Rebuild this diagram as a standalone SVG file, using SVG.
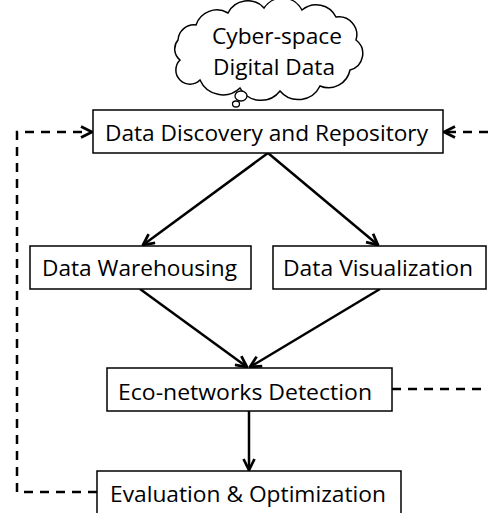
<svg xmlns="http://www.w3.org/2000/svg" width="488" height="513" viewBox="0 0 488 513">
<style>
.box{fill:#fff;stroke:#000;stroke-width:1.5}
.t{font-family:"Open Sans","Liberation Sans",sans-serif;font-size:22px;fill:#000}
.s{stroke:#000;stroke-width:2.5;fill:none}
.d{stroke:#000;stroke-width:2.5;fill:none;stroke-dasharray:9,7}
</style>
<defs>
<marker id="ah" viewBox="0 0 10 10" refX="9" refY="5" markerWidth="5.5" markerHeight="5.5" orient="auto" markerUnits="strokeWidth">
<path d="M1,1 L9,5 L1,9" fill="none" stroke="#000" stroke-width="2"/>
</marker>
</defs>
<rect width="488" height="513" fill="#fff"/>
<g id="cloud">
<path d="M180,60 A14,14 0 0 1 178,40 A16,16 0 0 1 196,25 A22,22 0 0 1 228,13 A22,22 0 0 1 264,8 A22,22 0 0 1 302,10 A22,22 0 0 1 336,17 A18,18 0 0 1 356,40 A17,17 0 0 1 350,70 A22,22 0 0 1 320,86 A24,24 0 0 1 280,91 A24,24 0 0 1 240,88 A25,25 0 0 1 200,80 A14,14 0 0 1 180,60 Z" fill="#fff" stroke="#000" stroke-width="1.5"/>
<ellipse cx="241" cy="96" rx="6" ry="5" fill="#fff" stroke="#000" stroke-width="1.3"/>
<ellipse cx="236" cy="104" rx="3.5" ry="3" fill="#fff" stroke="#000" stroke-width="1.3"/>
<text class="t" x="277" y="44" text-anchor="middle" textLength="130" lengthAdjust="spacingAndGlyphs">Cyber-space</text>
<text class="t" x="274" y="75" text-anchor="middle" textLength="122" lengthAdjust="spacingAndGlyphs">Digital Data</text>
</g>
<g id="connectors">
<line class="s" x1="268" y1="153" x2="143" y2="245" marker-end="url(#ah)"/>
<line class="s" x1="268" y1="153" x2="378" y2="245" marker-end="url(#ah)"/>
<line class="s" x1="140" y1="289" x2="247" y2="367" marker-end="url(#ah)"/>
<line class="s" x1="380" y1="289" x2="250" y2="367" marker-end="url(#ah)"/>
<line class="s" x1="249" y1="411" x2="249" y2="470" marker-end="url(#ah)"/>
<polyline class="d" points="97,492 17,492 17,132 92,132" marker-end="url(#ah)"/>
<line class="d" x1="488" y1="132" x2="444" y2="132" marker-end="url(#ah)"/>
<line class="d" x1="392" y1="389" x2="488" y2="389"/>
</g>
<g id="discovery">
<rect class="box" x="93" y="110" width="350" height="43"/>
<text class="t" x="266.5" y="141" text-anchor="middle" textLength="323" lengthAdjust="spacingAndGlyphs">Data Discovery and Repository</text>
</g>
<g id="warehousing">
<rect class="box" x="30" y="246" width="221" height="43"/>
<text class="t" x="139.5" y="276" text-anchor="middle" textLength="195" lengthAdjust="spacingAndGlyphs">Data Warehousing</text>
</g>
<g id="visualization">
<rect class="box" x="273" y="246" width="213" height="43"/>
<text class="t" x="378" y="276" text-anchor="middle" textLength="190" lengthAdjust="spacingAndGlyphs">Data Visualization</text>
</g>
<g id="eco">
<rect class="box" x="107" y="368" width="285" height="43"/>
<text class="t" x="245" y="400" text-anchor="middle" textLength="254" lengthAdjust="spacingAndGlyphs">Eco-networks Detection</text>
</g>
<g id="evaluation">
<rect class="box" x="97" y="471" width="304" height="50"/>
<text class="t" x="248" y="502" text-anchor="middle" textLength="276" lengthAdjust="spacingAndGlyphs">Evaluation &amp; Optimization</text>
</g>
</svg>
